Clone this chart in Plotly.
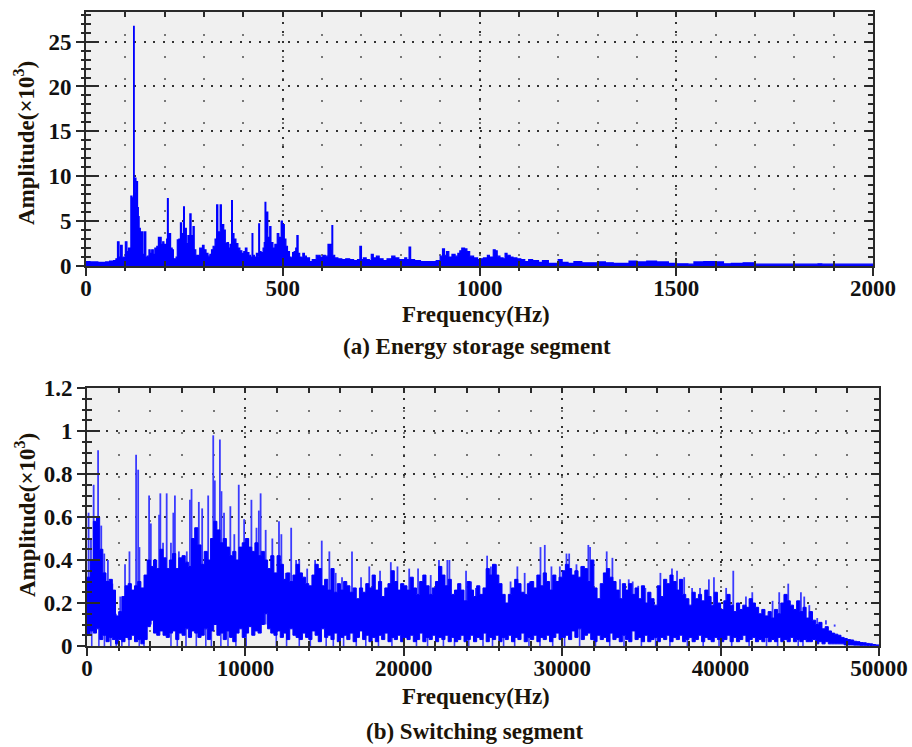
import plotly.graph_objects as go

# ---------- panel (a) ----------
a_freq = [0,10,30,50,60,70,76,80,84,88,92,96,100,104,108,111,114,117,119,121,122.5,124,125,127,129,131,133,135,138,141,145,149,152,156,160,163,167,171,175,180,184,187,191,195,198,202,205,207,209,212,215,219,222,226,229,232,236,240,243,246,248,250,251,255,259,262,264,267,270,272,275,279,283,286,289,293,296,300,305,310,315,319,323,328,332,335,338,341,344,347,350,354,358,362,366,370,372,376,381,386,391,396,401,405,409,414,418,422,424,428,433,436,439,441,445,450,453,455,457,459,462,465,467,470,475,480,486,490,493,496,499,501,504,508,512,517,521,525,529,533,536,539,543,547,551,555,560,568,575,585,595,602,608,615,620,623,625,627,632,640,650,660,670,680,690,
 696,700,705,712,720,725,730,738,745,755,765,777,785,795,810,815,821,
 825,835,850,870,890,900,906,911,916,922,930,938,945,950,955,962,968,975,985,995,1000,1010,1020,1025,1035,1040,1045,1052,1060,1065,1070,1078,1085,1095,1105,
 1115,1125,1135,1150,1160,1175,1190,1200,1210,1225,1240,1260,1280,1300,1320,1340,1380,1400,1425,1450,1480,1500,1530,1545,1570,1600,1620,1640,1670,1700,1760,1860,1870,2000]
a_amp = [.5,.45,.4,.45,.55,.6,.8,2.7,1.0,2.3,.9,1.0,2.7,1.6,2.0,1.4,7.8,5.5,7.6,26.7,7.5,8.2,9.8,9.4,9.4,6.5,5.5,4.2,2.8,3.8,1.3,3.8,1.0,1.1,1.8,1.4,1.8,1.3,2.0,2.2,3.2,3.2,2.4,2.7,2.4,1.8,3.0,7.5,3.0,3.6,2.0,1.8,.8,.7,1.0,2.9,3.0,4.8,3.0,3.6,6.6,4.2,4.2,2.5,3.4,2.8,5.8,3.4,2.4,4.4,1.8,1.2,.8,1.2,2.0,1.6,2.3,1.8,1.4,1.1,1.3,1.8,2.2,3.0,6.8,3.4,3.8,6.8,4.4,4.6,4.0,2.5,2.6,2.0,2.4,7.3,3.6,3.0,2.5,2.0,1.7,1.4,1.6,2.0,1.5,1.2,1.0,3.6,1.2,1.0,1.4,1.1,4.7,1.6,1.5,2.0,2.6,7.1,3.8,6.0,3.2,2.6,4.4,2.6,2.0,2.4,3.6,3.0,3.2,5.0,3.4,4.6,3.0,2.2,1.6,1.0,.9,1.5,1.6,2.0,3.4,1.4,1.0,.9,1.4,1.1,.9,.5,.7,1.2,1.0,1.2,1.1,2.4,1.8,2.4,4.5,1.2,.9,.8,.7,.8,.7,.6,.7,
 2.2,.7,.9,.7,.6,1.3,.9,1.1,.8,.6,.8,1.1,.9,.7,.9,.7,2.1,
 .7,.6,.5,.5,.6,1.1,1.9,1.2,1.6,1.0,1.3,1.1,1.4,1.7,2.0,1.9,1.6,1.1,.9,.7,.8,.9,1.2,1.0,1.8,1.7,1.1,.9,.8,1.4,1.2,1.0,.9,.8,.7,
 .5,.7,.6,.4,.6,.3,.3,.7,.4,.3,.5,.35,.35,.45,.35,.3,.55,.45,.55,.45,.3,.25,.2,.45,.5,.45,.25,.3,.35,.2,.2,.25,.2,.2]
a_xticks = [0,500,1000,1500,2000]
a_yticks = [0,5,10,15,20,25]

# ---------- panel (b) ----------
b_body_f = list(range(0, 50001, 200))
b_body_hi = [.32,.40,.58,.60,.45,.34,.30,.31,.26,.14,
 .16,.23,.28,.29,.26,.28,.30,.27,.33,.40,
 .37,.40,.36,.45,.41,.36,.40,.43,.36,.41,
 .42,.39,.37,.50,.55,.47,.38,.44,.40,.50,
 .58,.54,.48,.50,.46,.42,.44,.40,.46,.48,
 .50,.46,.44,.48,.42,.44,.40,.36,.42,.34,
 .42,.38,.31,.34,.30,.33,.38,.34,.32,.29,
 .28,.33,.38,.36,.28,.31,.26,.36,.25,.29,
 .26,.30,.28,.25,.27,.22,.27,.25,.29,.27,
 .33,.26,.30,.23,.27,.29,.35,.30,.26,.29,
 .28,.26,.32,.27,.24,.30,.33,.28,.24,.27,
 .30,.37,.33,.28,.31,.24,.26,.29,.26,.21,
 .30,.26,.23,.28,.24,.27,.36,.33,.38,.33,
 .29,.24,.20,.24,.27,.31,.29,.25,.24,.29,
 .30,.27,.33,.28,.34,.30,.26,.33,.30,.32,
 .35,.38,.36,.33,.35,.32,.37,.36,.30,.40,
 .27,.22,.29,.34,.36,.32,.30,.26,.22,.29,
 .26,.29,.24,.27,.22,.28,.20,.25,.22,.19,
 .28,.23,.31,.29,.33,.30,.26,.31,.24,.22,
 .19,.25,.22,.24,.21,.26,.23,.19,.25,.20,
 .17,.21,.24,.19,.16,.20,.17,.19,.18,.22,
 .20,.18,.15,.17,.14,.16,.13,.17,.15,.20,
 .24,.21,.19,.17,.21,.16,.18,.13,.16,.12,
 .10,.11,.08,.09,.07,.06,.055,.05,.04,.035,
 .03,.028,.022,.02,.016,.015,.012,.01,.007,.005,.004]
b_body_lo = [.05,.07,.06,.08,.03,.05,.02,.04,.03,.01,
 .03,.02,.04,.03,.05,.02,.03,.01,.03,.09,
 .12,.06,.05,.07,.05,.04,.06,.07,.03,.06,
 .05,.08,.04,.07,.06,.04,.05,.08,.03,.07,
 .10,.05,.06,.03,.07,.04,.02,.06,.08,.04,
 .06,.09,.05,.07,.06,.10,.15,.08,.06,.05,
 .07,.04,.06,.03,.08,.05,.04,.03,.06,.04,
 .03,.07,.05,.02,.08,.04,.05,.03,.06,.02,
 .04,.05,.03,.06,.02,.04,.07,.03,.05,.02,
 .04,.02,.05,.03,.06,.02,.04,.03,.05,.02,
 .04,.03,.05,.02,.03,.06,.02,.04,.03,.05,
 .02,.04,.03,.05,.02,.04,.02,.03,.05,.02,
 .03,.05,.02,.04,.03,.06,.02,.04,.03,.05,
 .02,.04,.03,.05,.02,.04,.03,.06,.02,.04,
 .03,.05,.02,.04,.03,.05,.02,.04,.06,.03,
 .04,.05,.03,.07,.04,.08,.03,.05,.06,.03,
 .02,.05,.03,.04,.02,.06,.03,.04,.02,.05,
 .03,.02,.07,.03,.04,.02,.05,.02,.03,.04,
 .02,.04,.03,.05,.02,.04,.03,.05,.02,.03,
 .04,.02,.03,.05,.02,.04,.03,.02,.04,.03,
 .02,.03,.05,.02,.04,.02,.03,.05,.02,.03,
 .04,.02,.03,.02,.04,.02,.03,.02,.04,.02,
 .03,.02,.04,.02,.03,.02,.03,.02,.02,.03,
 .01,.02,.01,.02,.01,.01,.01,.01,.01,.005,
 .005,.005,.004,.004,.003,.003,.002,.002,.001,.001,.0]

b_up_f = [100,250,420,700,900,1090,1320,1600,1820,2100,2400,2680,3100,3230,3310,3700,3920,4030,4550,4630,4800,5030,5300,5550,5450,5800,6100,6300,6500,6600,7060,7270,7650,7970,8070,8390,8490,8650,9050,9300,9580,9920,10180,10380,10700,10960,10850,11280,11700,12120,12270,12550,12890,13200,13400,13900,14400,14820,15300,15700,16100,16730,17300,17820,18500,19180,19600,20340,20900,21700,22220,22750,22880,23930,24250,24550,25260,25500,25830,26740,27170,27630,27950,28630,28900,29320,29850,30270,30440,30900,31200,31650,31760,32810,33170,33650,34200,34450,34800,35250,36200,36930,37250,37700,38200,38700,39260,39580,40350,40800,41600,42000,43280,43700,44270,45070,45280,45600,46100,46650,47200]
b_up_a = [.62,.50,.75,.91,.56,.43,.40,.29,.15,.23,.38,.44,.89,.82,.46,.33,.70,.57,.61,.71,.48,.71,.48,.70,.62,.44,.42,.44,.68,.73,.67,.64,.70,.98,.77,.96,.72,.62,.65,.52,.75,.59,.50,.68,.55,.71,.63,.54,.50,.58,.52,.34,.55,.40,.40,.36,.40,.49,.44,.34,.32,.44,.32,.37,.35,.39,.37,.36,.36,.33,.40,.40,.40,.35,.30,.27,.42,.37,.38,.30,.37,.34,.30,.46,.47,.37,.37,.43,.43,.38,.37,.47,.46,.44,.41,.31,.31,.30,.28,.27,.34,.36,.35,.32,.27,.27,.31,.32,.27,.35,.23,.25,.21,.25,.29,.25,.23,.19,.13,.12,.09]

b_down_f = [300,750,1100,1500,1850,2200,2650,3300,3600,5300,5700,6250,6900,7500,7850,8450,8900,9400,10050,11950,12600,13400,14100,15100,15550,16200,17000,17600,18400,19250,20000,20800,21500,22500,23200,24100,25000,25600,26300,27000,27900,28600,29400,30150,31100,32100,33000,33900,35000,35900,36800,37900,38900,39900,40700,41800,42900,43600,44900,45200]
b_xticks = [0,10000,20000,30000,40000,50000]
b_yticks = [0,0.2,0.4,0.6,0.8,1,1.2]
b_yticklabels = ["0","0.2","0.4","0.6","0.8","1","1.2"]

BLUE = "#0000ff"
LIGHT = "#3a3aff"
INK = "#2a2a2a"
FONT = "Liberation Serif"
DARK = "#1c1408"

fig = go.Figure()

fig.add_trace(go.Scatter(x=a_freq, y=a_amp, mode="lines", fill="tozeroy", fillcolor=BLUE,
                         line=dict(color=BLUE, width=1.2, shape="hv"), xaxis="x", yaxis="y", hoverinfo="skip"))

def stems(fs, hi, lo):
    xs, ys = [], []
    for f, h, l in zip(fs, hi, lo):
        xs += [f, f, None]
        ys += [l, h, None]
    return xs, ys

sx, sy = stems(b_up_f, b_up_a, [0.1] * len(b_up_f))
fig.add_trace(go.Scatter(x=sx, y=sy, mode="lines", line=dict(color=LIGHT, width=1.8),
                         xaxis="x2", yaxis="y2", hoverinfo="skip"))
dx, dy = stems(b_down_f, [0.08] * len(b_down_f), [0.0] * len(b_down_f))
fig.add_trace(go.Scatter(x=dx, y=dy, mode="lines", line=dict(color=LIGHT, width=1.6),
                         xaxis="x2", yaxis="y2", hoverinfo="skip"))
fig.add_trace(go.Scatter(x=b_body_f, y=b_body_lo, mode="lines", line=dict(color=BLUE, width=1, shape="hv"),
                         xaxis="x2", yaxis="y2", hoverinfo="skip"))
fig.add_trace(go.Scatter(x=b_body_f, y=b_body_hi, mode="lines", fill="tonexty", fillcolor=BLUE,
                         line=dict(color=BLUE, width=1, shape="hv"), xaxis="x2", yaxis="y2", hoverinfo="skip"))

W, H = 912, 747
A = dict(l=86, r=873, t=12, b=266, xmax=2000, ymax=28.3)
B = dict(l=87, r=879, t=388, b=646, xmax=50000, ymax=1.2)
tick_font = dict(family=FONT, size=23, color="#111111", weight="bold")
title_font = dict(family=FONT, size=23, color=DARK)

def tk(side_ticks, length, mlen, dminor, **grid):
    return dict(ticks=side_ticks, ticklen=length, tickwidth=2, tickcolor=INK,
                minor=dict(dtick=dminor, tick0=0, ticks=side_ticks, ticklen=mlen, tickwidth=2, tickcolor=INK, **grid))

def xaxis(P, vals, dminor):
    return dict(domain=[P["l"]/W, P["r"]/W], range=[0, P["xmax"]], tickmode="array", tickvals=vals,
                ticktext=[str(v) for v in vals], tickfont=tick_font, automargin=False, ticklabelstandoff=-8,
                showline=True, linecolor=INK, linewidth=2, zeroline=False,
                showgrid=True, gridcolor="#333333", gridwidth=1.7, griddash="2px,7.6px",
                **tk("outside", 8, 3, dminor, showgrid=True, gridcolor="#777777", gridwidth=1.5, griddash="1.5px,20.5px"))

def yaxis(P, vals, labels, dminor):
    return dict(domain=[1-P["b"]/H, 1-P["t"]/H], range=[0, P["ymax"]], tickmode="array", tickvals=vals,
                ticktext=labels, tickfont=tick_font, automargin=False,
                showline=True, linecolor=INK, linewidth=2, zeroline=False,
                showgrid=True, gridcolor="#333333", gridwidth=1.7, griddash="2px,7.6px",
                **tk("outside", 8, 3, dminor, showgrid=False))

def frame_x(P, anchor, vals, dminor, over, side, length):
    return dict(domain=[P["l"]/W, P["r"]/W], range=[0, P["xmax"]], side=side, overlaying=over, anchor=anchor,
                tickmode="array", tickvals=vals, showticklabels=False, automargin=False,
                showline=True, linecolor=INK, linewidth=2, showgrid=False, zeroline=False,
                **tk("inside", length, 5, dminor, showgrid=False))

def frame_y(P, anchor, vals, dminor, over, side, length):
    return dict(domain=[1-P["b"]/H, 1-P["t"]/H], range=[0, P["ymax"]], side=side, overlaying=over, anchor=anchor,
                tickmode="array", tickvals=vals, showticklabels=False, automargin=False,
                showline=True, linecolor=INK, linewidth=2, showgrid=False, zeroline=False,
                **tk("inside", length, 5, dminor, showgrid=False))

# empty carriers so the frame axes are drawn
for xa, ya in [("x3","y3"),("x4","y4"),("x5","y5"),("x6","y6")]:
    fig.add_trace(go.Scatter(x=[None], y=[None], xaxis=xa, yaxis=ya, showlegend=False))

def note(text, x, y, angle=0):
    return dict(text=f"<b>{text}</b>", x=x/W, y=1-y/H, xref="paper", yref="paper", showarrow=False,
                textangle=angle, font=title_font, xanchor="center", yanchor="middle")

fig.update_layout(
    width=W, height=H, margin=dict(l=0, r=0, t=0, b=0), paper_bgcolor="white", plot_bgcolor="#f0f0f0",
    showlegend=False, font=dict(family=FONT),
    xaxis=dict(xaxis(A, a_xticks, 100), anchor="y"),
    yaxis=dict(yaxis(A, a_yticks, [str(v) for v in a_yticks], 1), anchor="x"),
    xaxis2=dict(xaxis(B, b_xticks, 2000), anchor="y2"),
    yaxis2=dict(yaxis(B, b_yticks, b_yticklabels, 0.05), anchor="x2"),
    xaxis3=frame_x(A, "y3", a_xticks, 100, "x", "top", 5),
    yaxis3=frame_y(A, "x3", a_yticks, 1, "y", "right", 8),
    xaxis4=frame_x(B, "y4", b_xticks, 2000, "x2", "top", 5),
    yaxis4=frame_y(B, "x4", b_yticks, 0.05, "y2", "right", 8),
    xaxis5=frame_x(A, "y5", a_xticks, 100, "x", "bottom", 8),
    yaxis5=frame_y(A, "x5", a_yticks, 1, "y", "left", 13),
    xaxis6=frame_x(B, "y6", b_xticks, 2000, "x2", "bottom", 8),
    yaxis6=frame_y(B, "x6", b_yticks, 0.05, "y2", "left", 13),
    annotations=[
        note("Amplitude(×10<sup>3</sup>)", 25, 143, -90),
        note("Frequency(Hz)", 476, 314),
        note("(a) Energy storage segment", 477, 346),
        note("Amplitude(×10<sup>3</sup>)", 25, 515, -90),
        note("Frequency(Hz)", 476, 696),
        note("(b) Switching segment", 475, 731),
    ],
)

fig.write_html("out.html", post_script="document.body.style.margin='0';", config={"displayModeBar": False})
